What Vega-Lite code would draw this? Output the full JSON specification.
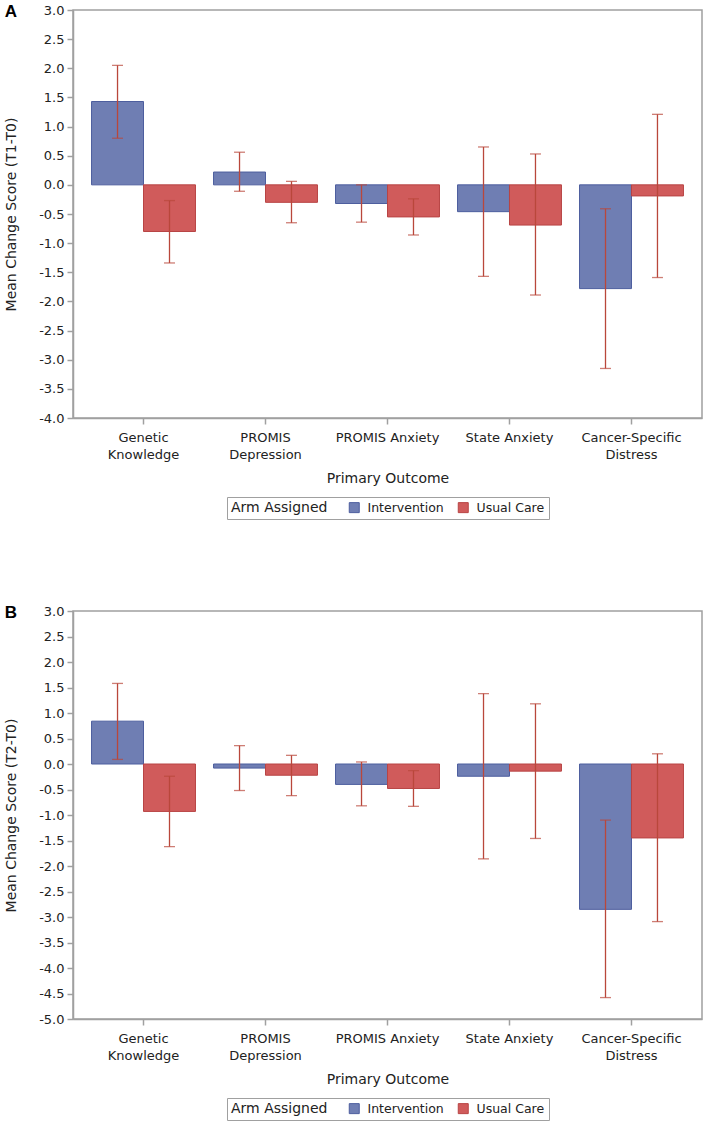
{
  "$schema": "https://vega.github.io/schema/vega-lite/v6.json",
  "padding": {"left": 3, "top": 2, "right": 5, "bottom": 5},
  "background": "white",
  "datasets": {
    "scores": [
      {"panel": "A", "outcome": "Genetic Knowledge", "arm": "Intervention", "mean": 1.43, "lower": 0.80, "upper": 2.05},
      {"panel": "A", "outcome": "Genetic Knowledge", "arm": "Usual Care", "mean": -0.80, "lower": -1.34, "upper": -0.27},
      {"panel": "A", "outcome": "PROMIS Depression", "arm": "Intervention", "mean": 0.22, "lower": -0.11, "upper": 0.56},
      {"panel": "A", "outcome": "PROMIS Depression", "arm": "Usual Care", "mean": -0.30, "lower": -0.65, "upper": 0.06},
      {"panel": "A", "outcome": "PROMIS Anxiety", "arm": "Intervention", "mean": -0.32, "lower": -0.64, "upper": 0.00},
      {"panel": "A", "outcome": "PROMIS Anxiety", "arm": "Usual Care", "mean": -0.55, "lower": -0.86, "upper": -0.24},
      {"panel": "A", "outcome": "State Anxiety", "arm": "Intervention", "mean": -0.46, "lower": -1.57, "upper": 0.65},
      {"panel": "A", "outcome": "State Anxiety", "arm": "Usual Care", "mean": -0.69, "lower": -1.89, "upper": 0.53},
      {"panel": "A", "outcome": "Cancer-Specific Distress", "arm": "Intervention", "mean": -1.78, "lower": -3.15, "upper": -0.41},
      {"panel": "A", "outcome": "Cancer-Specific Distress", "arm": "Usual Care", "mean": -0.19, "lower": -1.59, "upper": 1.21},
      {"panel": "B", "outcome": "Genetic Knowledge", "arm": "Intervention", "mean": 0.84, "lower": 0.09, "upper": 1.58},
      {"panel": "B", "outcome": "Genetic Knowledge", "arm": "Usual Care", "mean": -0.93, "lower": -1.62, "upper": -0.24},
      {"panel": "B", "outcome": "PROMIS Depression", "arm": "Intervention", "mean": -0.08, "lower": -0.52, "upper": 0.36},
      {"panel": "B", "outcome": "PROMIS Depression", "arm": "Usual Care", "mean": -0.22, "lower": -0.62, "upper": 0.17},
      {"panel": "B", "outcome": "PROMIS Anxiety", "arm": "Intervention", "mean": -0.40, "lower": -0.82, "upper": 0.04},
      {"panel": "B", "outcome": "PROMIS Anxiety", "arm": "Usual Care", "mean": -0.48, "lower": -0.83, "upper": -0.13},
      {"panel": "B", "outcome": "State Anxiety", "arm": "Intervention", "mean": -0.24, "lower": -1.86, "upper": 1.38},
      {"panel": "B", "outcome": "State Anxiety", "arm": "Usual Care", "mean": -0.14, "lower": -1.46, "upper": 1.18},
      {"panel": "B", "outcome": "Cancer-Specific Distress", "arm": "Intervention", "mean": -2.85, "lower": -4.58, "upper": -1.10},
      {"panel": "B", "outcome": "Cancer-Specific Distress", "arm": "Usual Care", "mean": -1.45, "lower": -3.09, "upper": 0.20}
    ]
  },
  "spacing": 82,
  "resolve": {
    "scale": {"color": "independent", "stroke": "independent", "y": "independent"},
    "legend": {"color": "independent", "stroke": "independent"}
  },
  "vconcat": [
    {
      "width": 629,
      "height": 408,
      "title": {"text": "A", "anchor": "start", "frame": "bounds", "dy": 17, "offset": 0},
      "data": {"name": "scores"},
      "transform": [{"filter": "datum.panel == 'A'"}],
      "encoding": {
        "x": {
          "field": "outcome", "type": "nominal", "sort": null,
          "scale": {"paddingInner": 0.148, "paddingOuter": 0.152},
          "axis": {
            "title": "Primary Outcome",
            "labelExpr": "datum.value == 'Genetic Knowledge' ? ['Genetic', 'Knowledge'] : datum.value == 'PROMIS Depression' ? ['PROMIS', 'Depression'] : datum.value == 'Cancer-Specific Distress' ? ['Cancer-Specific', 'Distress'] : datum.value"
          }
        },
        "xOffset": {"field": "arm", "type": "nominal", "scale": {"paddingInner": 0, "paddingOuter": 0}}
      },
      "layer": [
        {
          "mark": {"type": "bar", "strokeWidth": 1},
          "encoding": {
            "y": {
              "field": "mean", "type": "quantitative",
              "scale": {"domain": [-4, 3], "nice": false, "zero": false},
              "axis": {"title": "Mean Change Score (T1-T0)", "values": [-4, -3.5, -3, -2.5, -2, -1.5, -1, -0.5, 0, 0.5, 1, 1.5, 2, 2.5, 3], "labelExpr": "(datum.value < 0 ? '-' : '') + format(abs(datum.value), '.1f')", "labelOverlap": false}
            },
            "y2": {"datum": 0},
            "color": {
              "field": "arm", "type": "nominal",
              "scale": {"domain": ["Intervention", "Usual Care"], "range": ["#6f7eb3", "#d05b5b"]},
              "legend": {"title": "Arm Assigned"}
            },
            "stroke": {
              "field": "arm", "type": "nominal",
              "scale": {"domain": ["Intervention", "Usual Care"], "range": ["#4d5e9e", "#b84444"]},
              "legend": {"title": "Arm Assigned"}
            }
          }
        },
        {
          "mark": {"type": "rule", "color": "#a0a0a0", "strokeWidth": 1.5},
          "encoding": {"y": {"datum": 0, "type": "quantitative", "axis": {"title": "Mean Change Score (T1-T0)", "values": [-4, -3.5, -3, -2.5, -2, -1.5, -1, -0.5, 0, 0.5, 1, 1.5, 2, 2.5, 3], "labelExpr": "(datum.value < 0 ? '-' : '') + format(abs(datum.value), '.1f')", "labelOverlap": false}}}
        },
        {
          "mark": {"type": "rule", "color": "#b9473b", "strokeWidth": 1.3},
          "encoding": {"y": {"field": "lower", "type": "quantitative", "axis": {"title": "Mean Change Score (T1-T0)", "values": [-4, -3.5, -3, -2.5, -2, -1.5, -1, -0.5, 0, 0.5, 1, 1.5, 2, 2.5, 3], "labelExpr": "(datum.value < 0 ? '-' : '') + format(abs(datum.value), '.1f')", "labelOverlap": false}}, "y2": {"field": "upper"}}
        },
        {
          "mark": {"type": "tick", "color": "#b9473b", "size": 11, "thickness": 1.3, "orient": "horizontal"},
          "encoding": {"y": {"field": "lower", "type": "quantitative", "axis": {"title": "Mean Change Score (T1-T0)", "values": [-4, -3.5, -3, -2.5, -2, -1.5, -1, -0.5, 0, 0.5, 1, 1.5, 2, 2.5, 3], "labelExpr": "(datum.value < 0 ? '-' : '') + format(abs(datum.value), '.1f')", "labelOverlap": false}}}
        },
        {
          "mark": {"type": "tick", "color": "#b9473b", "size": 11, "thickness": 1.3, "orient": "horizontal"},
          "encoding": {"y": {"field": "upper", "type": "quantitative", "axis": {"title": "Mean Change Score (T1-T0)", "values": [-4, -3.5, -3, -2.5, -2, -1.5, -1, -0.5, 0, 0.5, 1, 1.5, 2, 2.5, 3], "labelExpr": "(datum.value < 0 ? '-' : '') + format(abs(datum.value), '.1f')", "labelOverlap": false}}}
        }
      ]
    },
    {
      "width": 629,
      "height": 408,
      "title": {"text": "B", "anchor": "start", "frame": "bounds", "dy": 17, "offset": 0},
      "data": {"name": "scores"},
      "transform": [{"filter": "datum.panel == 'B'"}],
      "encoding": {
        "x": {
          "field": "outcome", "type": "nominal", "sort": null,
          "scale": {"paddingInner": 0.148, "paddingOuter": 0.152},
          "axis": {
            "title": "Primary Outcome",
            "labelExpr": "datum.value == 'Genetic Knowledge' ? ['Genetic', 'Knowledge'] : datum.value == 'PROMIS Depression' ? ['PROMIS', 'Depression'] : datum.value == 'Cancer-Specific Distress' ? ['Cancer-Specific', 'Distress'] : datum.value"
          }
        },
        "xOffset": {"field": "arm", "type": "nominal", "scale": {"paddingInner": 0, "paddingOuter": 0}}
      },
      "layer": [
        {
          "mark": {"type": "bar", "strokeWidth": 1},
          "encoding": {
            "y": {
              "field": "mean", "type": "quantitative",
              "scale": {"domain": [-5, 3], "nice": false, "zero": false},
              "axis": {"title": "Mean Change Score (T2-T0)", "values": [-5, -4.5, -4, -3.5, -3, -2.5, -2, -1.5, -1, -0.5, 0, 0.5, 1, 1.5, 2, 2.5, 3], "labelExpr": "(datum.value < 0 ? '-' : '') + format(abs(datum.value), '.1f')", "labelOverlap": false}
            },
            "y2": {"datum": 0},
            "color": {
              "field": "arm", "type": "nominal",
              "scale": {"domain": ["Intervention", "Usual Care"], "range": ["#6f7eb3", "#d05b5b"]},
              "legend": {"title": "Arm Assigned"}
            },
            "stroke": {
              "field": "arm", "type": "nominal",
              "scale": {"domain": ["Intervention", "Usual Care"], "range": ["#4d5e9e", "#b84444"]},
              "legend": {"title": "Arm Assigned"}
            }
          }
        },
        {
          "mark": {"type": "rule", "color": "#a0a0a0", "strokeWidth": 1.5},
          "encoding": {"y": {"datum": 0, "type": "quantitative", "axis": {"title": "Mean Change Score (T2-T0)", "values": [-5, -4.5, -4, -3.5, -3, -2.5, -2, -1.5, -1, -0.5, 0, 0.5, 1, 1.5, 2, 2.5, 3], "labelExpr": "(datum.value < 0 ? '-' : '') + format(abs(datum.value), '.1f')", "labelOverlap": false}}}
        },
        {
          "mark": {"type": "rule", "color": "#b9473b", "strokeWidth": 1.3},
          "encoding": {"y": {"field": "lower", "type": "quantitative", "axis": {"title": "Mean Change Score (T2-T0)", "values": [-5, -4.5, -4, -3.5, -3, -2.5, -2, -1.5, -1, -0.5, 0, 0.5, 1, 1.5, 2, 2.5, 3], "labelExpr": "(datum.value < 0 ? '-' : '') + format(abs(datum.value), '.1f')", "labelOverlap": false}}, "y2": {"field": "upper"}}
        },
        {
          "mark": {"type": "tick", "color": "#b9473b", "size": 11, "thickness": 1.3, "orient": "horizontal"},
          "encoding": {"y": {"field": "lower", "type": "quantitative", "axis": {"title": "Mean Change Score (T2-T0)", "values": [-5, -4.5, -4, -3.5, -3, -2.5, -2, -1.5, -1, -0.5, 0, 0.5, 1, 1.5, 2, 2.5, 3], "labelExpr": "(datum.value < 0 ? '-' : '') + format(abs(datum.value), '.1f')", "labelOverlap": false}}}
        },
        {
          "mark": {"type": "tick", "color": "#b9473b", "size": 11, "thickness": 1.3, "orient": "horizontal"},
          "encoding": {"y": {"field": "upper", "type": "quantitative", "axis": {"title": "Mean Change Score (T2-T0)", "values": [-5, -4.5, -4, -3.5, -3, -2.5, -2, -1.5, -1, -0.5, 0, 0.5, 1, 1.5, 2, 2.5, 3], "labelExpr": "(datum.value < 0 ? '-' : '') + format(abs(datum.value), '.1f')", "labelOverlap": false}}}
        }
      ]
    }
  ],
  "config": {
    "font": "DejaVu Sans",
    "view": {"stroke": "#a0a0a0", "strokeWidth": 1.5},
    "title": {"font": "Liberation Sans", "fontSize": 17, "fontWeight": "bold", "color": "#000000"},
    "axis": {
      "grid": false,
      "domainColor": "#a0a0a0",
      "domainWidth": 1.5,
      "tickColor": "#a0a0a0",
      "tickWidth": 1.5,
      "tickSize": 6,
      "labelFont": "DejaVu Sans",
      "labelFontSize": 13,
      "labelColor": "#222222",
      "titleFont": "DejaVu Sans",
      "titleFontSize": 14,
      "titleFontWeight": "normal",
      "titleColor": "#222222"
    },
    "axisX": {"labelAngle": 0, "labelPadding": 7, "labelLineHeight": 17, "titlePadding": 10, "labelBaseline": "top"},
    "axisY": {"labelPadding": 3, "titlePadding": 20},
    "legend": {
      "orient": "bottom",
      "direction": "horizontal",
      "titleOrient": "left",
      "titleFont": "DejaVu Sans",
      "titleFontSize": 14,
      "titleFontWeight": "normal",
      "titleColor": "#222222",
      "titlePadding": 20,
      "labelFont": "DejaVu Sans",
      "labelFontSize": 12.5,
      "labelColor": "#222222",
      "labelOffset": 7,
      "columnPadding": 12,
      "symbolType": "square",
      "symbolSize": 100,
      "symbolStrokeWidth": 1,
      "strokeColor": "#a0a0a0",
      "padding": 4,
      "offset": 12,
      "layout": {"bottom": {"anchor": "middle"}}
    }
  }
}
